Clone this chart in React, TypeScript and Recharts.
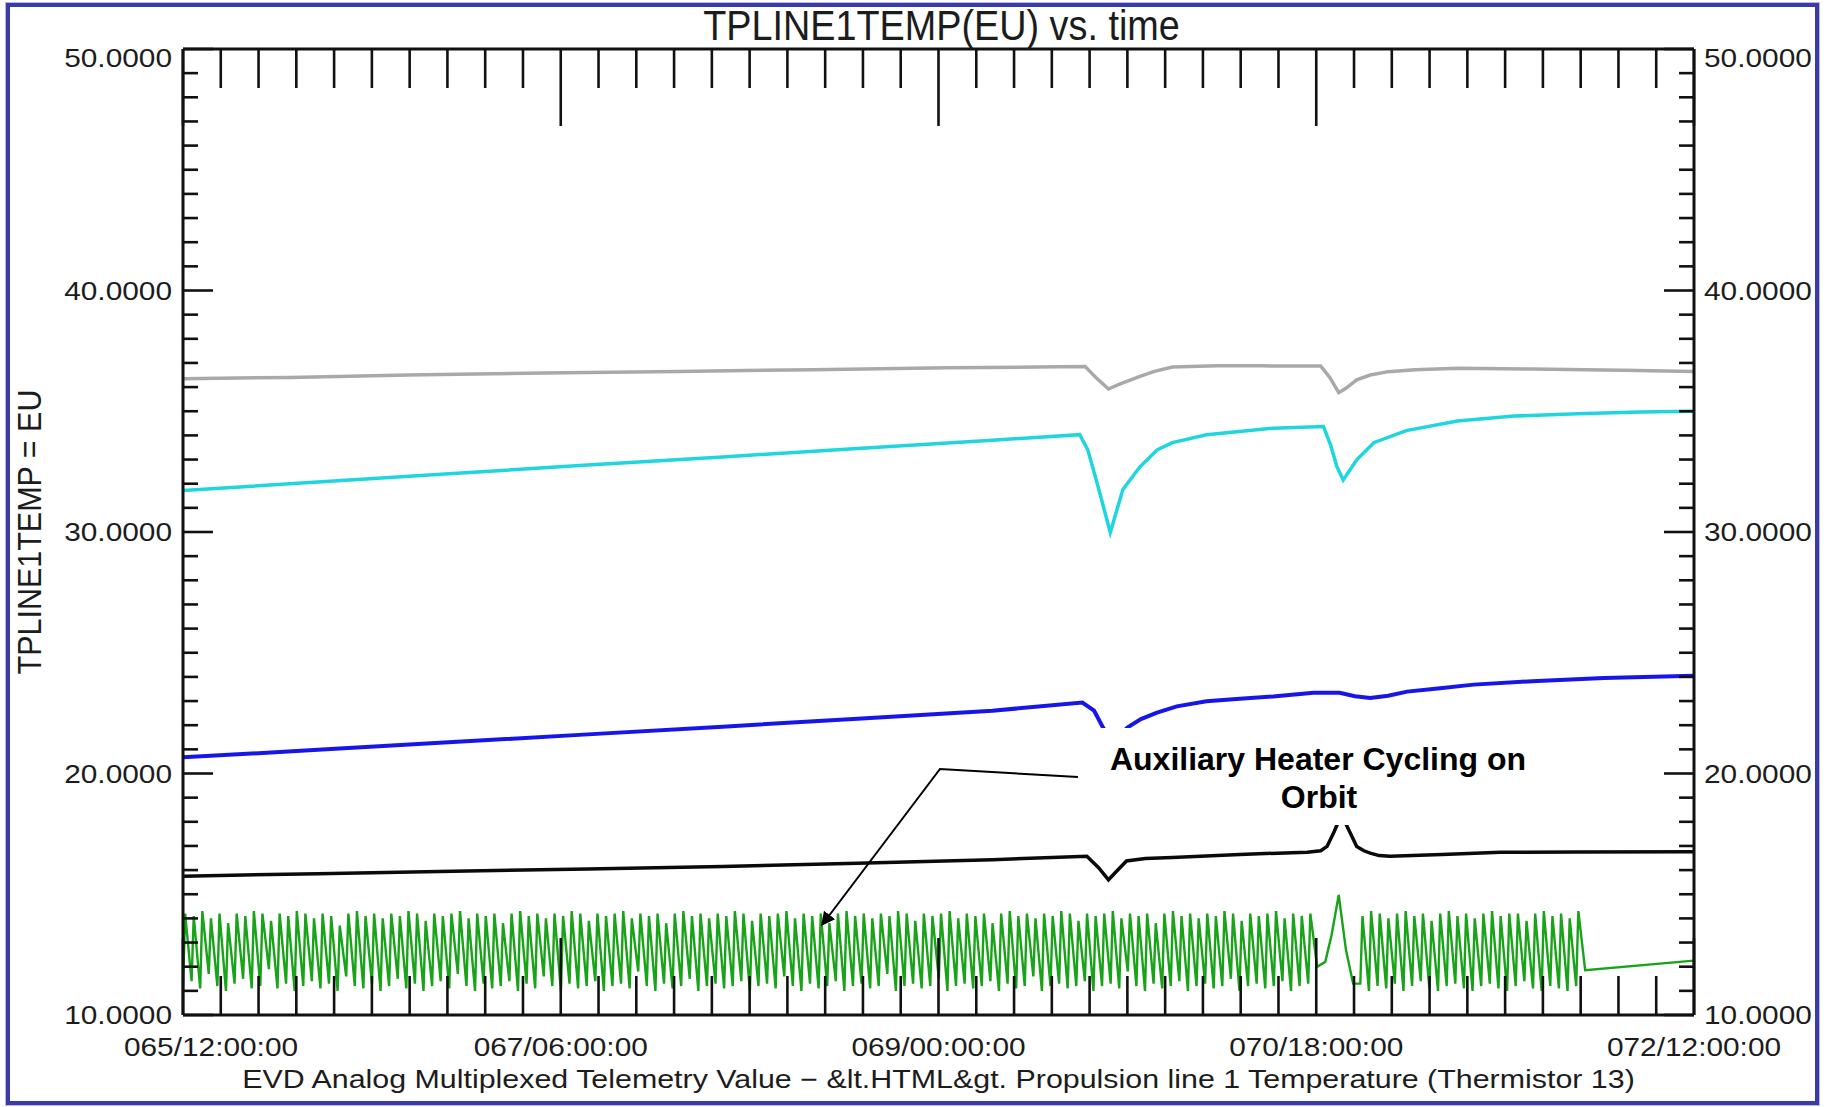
import React from 'react';
import { LineChart, Line, XAxis, YAxis, Label } from 'recharts';

const W = 1828;
const H = 1107;
const PLOT = { left: 183, top: 49, right: 1694, bottom: 1015 };
const FONT = '"Liberation Sans", Arial, Helvetica, sans-serif';
const STRETCH = 1.17; // the source image is stretched sideways
const AX = 1; // axis box size (an axis of size 0 is not drawn)

// x is hours since 065/12:00:00
const xMajorHours = [0, 42, 84, 126, 168];
const xMajorLabels = ['065/12:00:00', '067/06:00:00', '069/00:00:00', '070/18:00:00', '072/12:00:00'];
const yMajorValues = [10, 20, 30, 40, 50];
const xTicks = Array.from({ length: 41 }, (_, i) => Math.round(i * 42) / 10);
const yTicks = Array.from({ length: 41 }, (_, i) => 10 + i);

const grayT = [0, 12, 25, 40, 55, 70, 85, 95, 100.3, 101.5, 102.9, 104, 106.4, 108, 110, 115, 120, 126.5, 127.5, 128.5, 129.3, 130.5, 132, 134, 137, 141.7, 150, 160, 168];
const grayV = [36.35, 36.4, 36.5, 36.58, 36.65, 36.72, 36.8, 36.83, 36.85, 36.4, 35.92, 36.1, 36.44, 36.65, 36.83, 36.88, 36.88, 36.87, 36.4, 35.77, 35.95, 36.3, 36.5, 36.64, 36.72, 36.78, 36.75, 36.7, 36.65];

const cyanT = [0, 15, 30, 45, 60, 75, 90, 99.7, 100.6, 101.8, 103.1, 104.5, 106.4, 108.3, 110, 113.8, 121.2, 126.8, 127.6, 128.3, 129, 130.5, 132.4, 136, 141.7, 148, 155, 162, 168];
const cyanV = [31.72, 32.07, 32.42, 32.77, 33.11, 33.46, 33.8, 34.03, 33.4, 31.8, 29.98, 31.76, 32.7, 33.4, 33.7, 34.03, 34.3, 34.37, 33.6, 32.7, 32.15, 32.99, 33.7, 34.2, 34.6, 34.8, 34.9, 34.97, 35.0];

const blueT = [0, 15, 30, 45, 60, 75, 90, 100, 101.3, 102.3, 103.4, 105, 106.5, 108.3, 110.5, 113.8, 117.5, 121.2, 125.7, 128.6, 130.3, 132, 134, 136.1, 139.5, 143.5, 150, 158, 168];
const blueV = [20.67, 20.98, 21.3, 21.62, 21.94, 22.27, 22.6, 22.94, 22.6, 21.9, 21.3, 21.9, 22.25, 22.52, 22.78, 22.99, 23.1, 23.19, 23.34, 23.34, 23.2, 23.13, 23.22, 23.39, 23.52, 23.68, 23.82, 23.95, 24.05];

const blackT = [0, 15, 30, 45, 60, 75, 90, 100.5, 101.8, 102.9, 103.8, 104.9, 107, 110, 117.5, 125, 126.5, 127.2, 128, 128.8, 129.7, 130.5, 131.3, 132, 133, 134.2, 140, 146.5, 155, 168];
const blackV = [15.75, 15.85, 15.95, 16.05, 16.15, 16.28, 16.43, 16.57, 16.1, 15.6, 15.95, 16.38, 16.48, 16.52, 16.65, 16.74, 16.8, 16.98, 17.6, 18.3, 17.6, 16.98, 16.8, 16.7, 16.6, 16.57, 16.65, 16.74, 16.75, 16.76];

// green: heater cycling, one trough/peak pair per cycle
const greenPeriodA = 0.955;
const greenHiA = [
  14.2, 14.1, 14.3, 14.0, 14.2, 13.8, 14.2, 14.1, 14.3, 14.2, 13.9, 14.2,
  14.1, 14.3, 14.2, 14.0, 14.2, 14.1, 13.7, 14.2, 14.3, 14.1, 14.2, 14.0,
  14.2, 14.1, 14.3, 14.2, 13.9, 14.2, 14.1, 14.2, 14.3, 14.0, 14.2, 14.1,
  14.2, 13.8, 14.2, 14.3, 14.1, 14.2, 14.0, 14.2, 14.1, 14.3, 14.2, 13.9,
  14.2, 14.1, 14.2, 14.3, 14.0, 14.2, 14.1, 14.2, 13.8, 14.2, 14.3, 14.1,
  14.2, 14.0, 14.2, 14.1, 14.3, 14.2, 13.9, 14.2, 14.1, 14.2, 14.3, 14.0,
  14.2, 14.1, 14.2, 13.8, 14.2, 14.3, 14.1, 14.2, 14.0, 14.2, 14.1, 14.3,
  14.2, 13.9, 14.2, 14.1, 14.2, 14.3, 14.0, 14.2, 14.1, 14.2, 13.8, 14.2,
  14.3, 14.1, 14.2, 14.0, 14.2, 14.1, 14.3, 14.2, 13.9, 14.2, 14.1, 14.2,
  14.3, 14.0, 14.2, 14.1, 14.2, 13.8, 14.2, 14.3, 14.1, 14.2, 14.0, 14.2,
  14.1, 14.3, 14.2, 13.9, 14.2, 14.1, 14.2, 14.3, 14.0, 14.2, 14.1, 14.2,
];
const greenLoA = [
  11.2, 11.4, 11.1, 11.7, 11.2, 11.0, 11.3, 11.5, 11.1, 11.2, 11.9, 11.1,
  11.3, 11.0, 11.2, 11.4, 11.1, 11.3, 11.0, 11.6, 11.2, 11.1, 11.3, 11.0,
  11.2, 11.5, 11.1, 11.3, 11.0, 11.2, 11.4, 11.1, 11.7, 11.2, 11.0, 11.3,
  11.1, 11.2, 11.4, 11.0, 11.3, 11.1, 11.6, 11.2, 11.0, 11.3, 11.1, 11.2,
  11.4, 11.0, 11.2, 11.3, 11.1, 11.8, 11.2, 11.0, 11.3, 11.1, 11.2, 11.5,
  11.0, 11.2, 11.3, 11.1, 11.2, 11.4, 11.0, 11.2, 11.3, 11.1, 11.6, 11.2,
  11.0, 11.3, 11.1, 11.2, 11.4, 11.0, 11.2, 11.3, 11.1, 11.2, 11.7, 11.0,
  11.2, 11.3, 11.1, 11.2, 11.5, 11.0, 11.2, 11.3, 11.1, 11.2, 11.4, 11.0,
  11.3, 11.1, 11.2, 11.6, 11.0, 11.2, 11.3, 11.1, 11.2, 11.4, 11.0, 11.2,
  11.3, 11.1, 11.8, 11.2, 11.0, 11.3, 11.1, 11.2, 11.4, 11.0, 11.2, 11.3,
  11.1, 11.2, 11.5, 11.0, 11.2, 11.3, 11.1, 11.2, 11.4, 11.0, 11.2, 11.3,
];
const greenSpikeT = [126.1, 127.0, 127.7, 128.5, 129.3, 130.1];
const greenSpikeV = [12.0, 12.2, 13.3, 14.97, 12.7, 11.3];
const greenStartB = 130.9;
const greenPeriodB = 0.96;
const greenHiB = [14.1, 14.3, 14.2, 14.0, 14.2, 14.3, 14.1, 14.2, 13.9, 14.2, 14.3, 14.1, 14.2, 14.0, 14.2, 14.3, 14.1, 14.2, 14.2, 13.9, 14.2, 14.3, 14.1, 14.2, 14.0, 14.3];
const greenLoB = [11.3, 11.0, 11.2, 11.1, 11.3, 11.0, 11.2, 11.4, 11.1, 11.0, 11.2, 11.3, 11.1, 11.0, 11.2, 11.3, 11.1, 11.0, 11.2, 11.4, 11.1, 11.0, 11.2, 11.1, 11.0, 11.2];
const greenTailT = [155.9, 168];
const greenTailV = [11.86, 12.25];

const toPoints = (t: number[], v: number[]) => t.map((tt, i) => ({ t: tt, v: v[i] }));

function cycles(start: number, period: number, lo: number[], hi: number[]) {
  const pts: { t: number; v: number }[] = [];
  lo.forEach((l, k) => {
    pts.push({ t: start + k * period, v: l });
    pts.push({ t: start + (k + 0.25) * period, v: hi[k] });
  });
  return pts;
}

const grayData = toPoints(grayT, grayV);
const cyanData = toPoints(cyanT, cyanV);
const blueData = toPoints(blueT, blueV);
const blackData = toPoints(blackT, blackV);
const greenData = [
  ...cycles(0, greenPeriodA, greenLoA, greenHiA),
  ...toPoints(greenSpikeT, greenSpikeV),
  ...cycles(greenStartB, greenPeriodB, greenLoB, greenHiB),
  ...toPoints(greenTailT, greenTailV),
];

function SText({ x, y, size, anchor = 'middle', sx = STRETCH, sy = 1, rotate = 0, weight = 'normal', children }: any) {
  return (
    <text
      transform={`translate(${x},${y}) rotate(${rotate}) scale(${sx},${sy})`}
      textAnchor={anchor}
      fontSize={size}
      fontFamily={FONT}
      fontWeight={weight}
      fill="#1c1c1c"
    >
      {children}
    </text>
  );
}

const xTick = (side: 'top' | 'bottom') => (props: any) => {
  const { x, y, payload } = props;
  const mi = xMajorHours.indexOf(payload.value);
  const len = mi >= 0 ? 77 : 39;
  const dir = side === 'bottom' ? -1 : 1;
  return (
    <g>
      <line x1={x} y1={y} x2={x} y2={y + dir * len} stroke="#111" strokeWidth={2.6} />
      {side === 'bottom' && mi >= 0 && (
        <SText x={x + (mi === 0 ? 28 : 0)} y={y + 41} size={25.5}>{xMajorLabels[mi]}</SText>
      )}
    </g>
  );
};

const yTick = (side: 'left' | 'right') => (props: any) => {
  const { x, y, payload } = props;
  const v = payload.value;
  const major = yMajorValues.includes(v);
  const dir = side === 'left' ? 1 : -1;
  const base = v === 50 ? y + 18 : y + 9;
  return (
    <g>
      <line x1={x} y1={y} x2={x + dir * (major ? 30 : 15)} y2={y} stroke="#111" strokeWidth={2.6} />
      {major && (
        <SText x={side === 'left' ? x - 11 : x + 10} y={base} size={25.5} anchor={side === 'left' ? 'end' : 'start'}>
          {v.toFixed(4)}
        </SText>
      )}
    </g>
  );
};

const axisLine = { stroke: '#111', strokeWidth: 3 };

export default function App() {
  return (
    <div style={{ position: 'relative', width: W, height: H, background: '#fff' }}>
      <style>{'body{margin:0}'}</style>
      <LineChart
        width={W}
        height={H}
        margin={{ top: PLOT.top - AX, right: W - PLOT.right - AX, bottom: H - PLOT.bottom - AX, left: PLOT.left - AX }}
        style={{ position: 'absolute', left: 0, top: 0 }}
      >
        <XAxis
          xAxisId="b" type="number" dataKey="t" domain={[0, 168]} ticks={xTicks} interval={0}
          height={AX} tickSize={0} tickMargin={0} tickLine={false} axisLine={axisLine}
          tick={xTick('bottom')} allowDataOverflow
        >
          <Label
            content={() => (
              <SText x={(PLOT.left + PLOT.right) / 2} y={1088} size={25.5} sx={1.192}>
                EVD Analog Multiplexed Telemetry Value − &amp;lt.HTML&amp;gt. Propulsion line 1 Temperature (Thermistor 13)
              </SText>
            )}
          />
        </XAxis>
        <XAxis
          xAxisId="t" orientation="top" type="number" dataKey="t" domain={[0, 168]} ticks={xTicks} interval={0}
          height={AX} tickSize={0} tickMargin={0} tickLine={false} axisLine={axisLine}
          tick={xTick('top')} allowDataOverflow
        >
          <Label
            content={() => (
              <SText x={(PLOT.left + PLOT.right) / 2 + 3} y={40} size={42} sx={0.9}>TPLINE1TEMP(EU) vs. time</SText>
            )}
          />
        </XAxis>
        <YAxis
          yAxisId="l" type="number" domain={[10, 50]} ticks={yTicks} interval={0}
          width={AX} tickSize={0} tickMargin={0} tickLine={false} axisLine={axisLine}
          tick={yTick('left')} allowDataOverflow
        >
          <Label
            content={() => (
              <SText x={41} y={(PLOT.top + PLOT.bottom) / 2} size={30.5} rotate={-90} sx={1} sy={1.1}>
                TPLINE1TEMP = EU
              </SText>
            )}
          />
        </YAxis>
        <YAxis
          yAxisId="r" orientation="right" type="number" domain={[10, 50]} ticks={yTicks} interval={0}
          width={AX} tickSize={0} tickMargin={0} tickLine={false} axisLine={axisLine}
          tick={yTick('right')} allowDataOverflow
        />
        <Line data={grayData} dataKey="v" xAxisId="b" yAxisId="l" type="linear" stroke="#a9a9a9" strokeWidth={3.5} dot={false} isAnimationActive={false} />
        <Line data={cyanData} dataKey="v" xAxisId="b" yAxisId="l" type="linear" stroke="#1fd6de" strokeWidth={3.5} dot={false} isAnimationActive={false} />
        <Line data={blueData} dataKey="v" xAxisId="b" yAxisId="l" type="linear" stroke="#1616e8" strokeWidth={4} dot={false} isAnimationActive={false} />
        <Line data={blackData} dataKey="v" xAxisId="b" yAxisId="l" type="linear" stroke="#0a0a0a" strokeWidth={3.5} dot={false} isAnimationActive={false} />
        <Line data={greenData} dataKey="v" xAxisId="b" yAxisId="l" type="linear" stroke="#18a318" strokeWidth={2.4} dot={false} isAnimationActive={false} />
      </LineChart>

      {/* annotation and page frame */}
      <svg width={W} height={H} style={{ position: 'absolute', left: 0, top: 0, pointerEvents: 'none' }}>
        <defs>
          <marker id="head" viewBox="0 0 10 10" refX="9" refY="5" markerWidth="7" markerHeight="7" orient="auto">
            <path d="M0,0 L10,5 L0,10 z" fill="#000" />
          </marker>
        </defs>
        <rect x={1080} y={728} width={480} height={97} fill="#fff" />
        <text x={1318} y={770} textAnchor="middle" fontFamily={FONT} fontWeight="bold" fontSize={32} fill="#000">
          Auxiliary Heater Cycling on
        </text>
        <text x={1319} y={808} textAnchor="middle" fontFamily={FONT} fontWeight="bold" fontSize={32} fill="#000">
          Orbit
        </text>
        <polyline points="1078,777 940,769 822,925" fill="none" stroke="#000" strokeWidth={2} markerEnd="url(#head)" />
        <rect x={6} y={3} width={1813} height={1102} fill="none" stroke="#b9b9e6" strokeWidth={2} />
        <rect x={8} y={5} width={1809} height={1098} fill="none" stroke="#3a3aa8" strokeWidth={4} />
      </svg>
    </div>
  );
}
